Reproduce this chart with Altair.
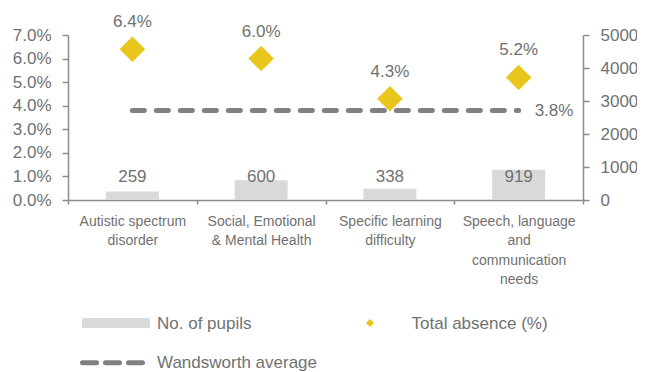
import altair as alt
import pandas as pd

categories = [
    "Autistic spectrum\ndisorder",
    "Social, Emotional\n& Mental Health",
    "Specific learning\ndifficulty",
    "Speech, language\nand\ncommunication\nneeds",
]
pupils = [259, 600, 338, 919]
absence = [0.064, 0.060, 0.043, 0.052]
average = 0.038
pct_ticks = [0, 0.01, 0.02, 0.03, 0.04, 0.05, 0.06, 0.07]
count_ticks = [0, 1000, 2000, 3000, 4000, 5000]
legend_labels = ["No. of pupils", "Total absence (%)", "Wandsworth average"]

FONT = "Liberation Sans"
TXT = "#717171"
GOLD = "#E8C61C"
BARC = "#D9D9D9"
LINEC = "#808080"

df = pd.DataFrame({
    "category": categories,
    "pupils": pupils,
    "absence": absence,
    "average": [average] * len(categories),
    "base": [0] * len(categories),
})
last = df.tail(1)

x = alt.X(
    "category:N", sort=categories, title=None,
    scale=alt.Scale(paddingInner=0, paddingOuter=0),
    axis=alt.Axis(labelExpr="split(datum.label, '\\n')", labelAngle=0,
                  tickBand="extent", labelFontSize=14, labelLineHeight=19.5,
                  tickSize=4, labelPadding=10),
)

# right axis: pupils
cscale = alt.Scale(domain=[0, 5000], nice=False)
caxis = alt.Axis(orient="right", values=count_ticks, tickSize=6,
                 labelPadding=11, format="d", labelOverlap=False)
bars = alt.Chart(df).mark_bar(size=53, color=BARC).encode(
    x=x, y=alt.Y("pupils:Q", title=None, scale=cscale, axis=caxis),
)
bar_text = alt.Chart(df).mark_text(
    dy=-18, baseline="alphabetic", fontSize=17, font=FONT, color=TXT
).encode(x=x, y=alt.Y("base:Q", title=None, scale=cscale, axis=caxis),
         text=alt.Text("pupils:Q", format="d"))
count_layer = alt.layer(bars, bar_text)

# left axis: percentages
pscale = alt.Scale(domain=[0, 0.07], nice=False)
paxis = alt.Axis(orient="left", values=pct_ticks, format=".1%",
                 tickSize=6, labelPadding=11, labelOverlap=False)
line = alt.Chart(df).mark_line(
    color=LINEC, strokeWidth=5, strokeDash=[12, 12], strokeCap="round"
).encode(x=x, y=alt.Y("average:Q", title=None, scale=pscale, axis=paxis))
line_text = alt.Chart(last).mark_text(
    align="left", baseline="middle", dx=16, dy=1, fontSize=17, font=FONT, color=TXT
).encode(x=x, y=alt.Y("average:Q", title=None, scale=pscale, axis=paxis),
         text=alt.Text("average:Q", format=".1%"))
diamonds = alt.Chart(df).mark_point(
    shape="diamond", filled=True, size=650, color=GOLD, opacity=1
).encode(x=x, y=alt.Y("absence:Q", title=None, scale=pscale, axis=paxis))
dia_text = alt.Chart(df).mark_text(
    dy=-22, baseline="alphabetic", fontSize=17, font=FONT, color=TXT
).encode(x=x, y=alt.Y("absence:Q", title=None, scale=pscale, axis=paxis),
         text=alt.Text("absence:Q", format=".1%"))
pct_layer = alt.layer(line, diamonds, dia_text, line_text)

# legend
one = pd.DataFrame({"k": [0]})
leg_rect = alt.Chart(one).mark_rect(color=BARC).encode(
    x=alt.value(14), x2=alt.value(82), y=alt.value(283), y2=alt.value(293))
leg_t1 = alt.Chart(one).mark_text(align="left", baseline="middle", fontSize=17, font=FONT, color=TXT).encode(
    x=alt.value(89), y=alt.value(288.5), text=alt.value(legend_labels[0]))
leg_dia = alt.Chart(one).mark_point(shape="diamond", filled=True, size=64, color=GOLD, opacity=1).encode(
    x=alt.value(302), y=alt.value(288))
leg_t2 = alt.Chart(one).mark_text(align="left", baseline="middle", fontSize=17, font=FONT, color=TXT).encode(
    x=alt.value(343.5), y=alt.value(288.5), text=alt.value(legend_labels[1]))
leg_rule = alt.Chart(one).mark_rule(color=LINEC, strokeWidth=5, strokeDash=[14, 9], strokeCap="round").encode(
    x=alt.value(14.5), x2=alt.value(74.5), y=alt.value(327.7))
leg_t3 = alt.Chart(one).mark_text(align="left", baseline="middle", fontSize=17, font=FONT, color=TXT).encode(
    x=alt.value(89), y=alt.value(327.5), text=alt.value(legend_labels[2]))

chart = alt.layer(
    count_layer, pct_layer, leg_rect, leg_t1, leg_dia, leg_t2, leg_rule, leg_t3
).resolve_scale(y="independent").properties(
    width=515, height=165,
    autosize=alt.AutoSizeParams(type="none"),
    padding={"left": 60, "top": 27, "right": 54, "bottom": 172},
).configure_view(strokeWidth=0).configure_axis(
    domainColor="#8C8C8C", domainWidth=1.5, tickColor="#8C8C8C", tickWidth=1.5,
    labelColor=TXT, labelFont=FONT, labelFontSize=17, grid=False,
)

chart.save("out.html", embed_options={"renderer": "svg", "actions": False})
